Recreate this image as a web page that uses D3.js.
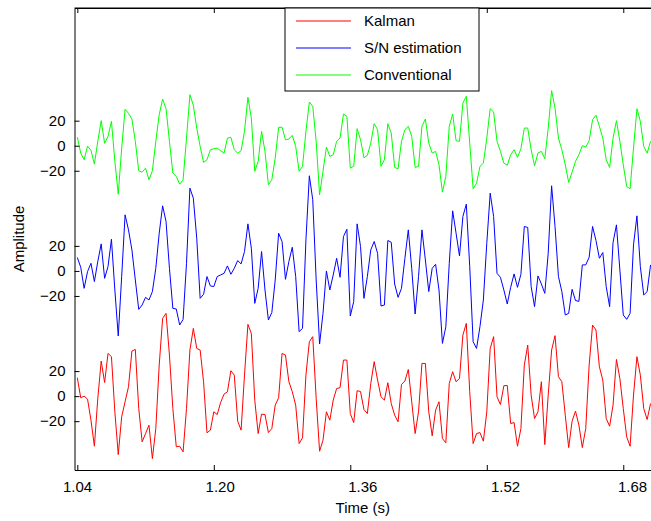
<!DOCTYPE html>
<html><head><meta charset="utf-8">
<script src="https://cdn.jsdelivr.net/npm/d3@7"></script>
<style>
body{margin:0;background:#fff}
svg{display:block}
text{font-family:"Liberation Sans",Arial,Helvetica,sans-serif;fill:#000}
</style>
</head><body>
<svg id="chart" width="651" height="521"></svg>
<script>
// ---- data ----
const startTime = 1.04;        // s, first sample
const sampleInterval = 0.004;  // s between samples

const kalman = [14.7,-1.3,0.0,-2.4,-19.2,-40.0,-1.9,28.0,10.9,34.1,31.5,-12.5,-46.7,-16.5,-4.5,7.5,36.0,37.3,-9.9,-36.5,-29.9,-23.2,-49.9,-25.9,24.8,62.1,66.1,32.8,-9.9,-40.5,-40.0,-44.5,-9.9,36.8,54.1,38.1,36.8,11.5,-29.3,-27.2,-12.5,-14.7,
 -5.1,1.6,3.5,20.3,16.8,-20.0,-27.2,16.8,57.3,50.1,-3.2,-29.9,-14.4,-14.7,-29.1,-25.9,-7.2,-1.3,34.1,32.8,11.5,3.5,-7.2,-37.9,-33.3,16.8,43.5,47.5,-1.9,-44.0,-35.2,-12.5,-19.2,-3.2,6.1,6.7,28.8,28.8,-13.9,-21.1,4.3,3.7,-10.7,
 -13.9,10.1,27.5,12.8,-0.5,-3.2,10.7,-5.9,-15.2,-20.5,9.3,12.0,21.3,-4.5,-29.9,-12.5,26.1,26.1,-12.5,-31.7,-11.2,-4.5,-33.9,-37.3,10.1,19.5,11.5,14.1,48.8,58.1,3.5,-37.9,-29.9,-29.1,-36.0,-12.5,38.1,47.5,-0.5,-6.7,8.3,8.5,
 -21.9,-21.1,-40.0,-25.9,24.8,40.8,0.8,-17.9,-12.5,11.5,-38.7,0.8,36.8,48.3,15.5,11.5,-15.2,-41.1,-20.0,-12.0,-23.2,-41.1,-25.9,24.8,56.8,52.8,23.5,12.8,-17.9,-24.0,-7.2,29.3,14.1,-9.9,-32.5,-40.0,0.8,31.5,16.8,-9.9,-18.7,-5.9];

const snEstimation = [10.7,2.9,-13.9,-0.5,6.1,-8.5,7.5,21.6,-5.9,3.5,25.3,-15.2,-52.0,-4.5,44.8,32.8,16.8,-7.2,-30.7,-27.2,-21.1,-23.2,-16.5,2.1,30.1,52.0,39.5,2.1,-29.9,-30.4,-43.2,-38.7,6.1,66.1,58.1,26.1,-21.9,-18.7,-4.5,-12.0,-12.5,-4.5,
 -3.2,-1.9,4.0,-2.7,2.1,8.3,5.6,15.5,37.6,18.1,-25.9,-13.9,15.5,-15.2,-39.2,-33.3,-7.2,30.1,23.5,-6.7,7.5,18.9,-4.5,-48.5,-45.9,24.8,76.0,56.8,-7.2,-58.4,-33.9,0.0,-15.2,-3.2,10.1,-5.1,27.5,33.3,-36.0,-24.5,37.6,19.5,-21.9,
 -4.5,16.8,23.5,14.1,-28.0,-27.2,24.3,22.9,-10.4,-21.1,-13.9,10.1,32.8,2.1,-34.4,-4.5,32.8,8.8,-16.5,2.1,5.3,-15.2,-57.9,-44.5,6.1,48.0,30.1,12.0,43.5,53.3,3.5,-56.5,-61.9,-44.5,-23.2,22.1,62.1,43.5,-1.9,-5.1,-15.2,-26.4,
 -13.1,-2.4,-13.1,-2.7,35.5,34.7,-12.5,-28.5,-4.0,-10.4,-17.9,14.1,68.0,35.5,-4.5,-16.5,-35.2,-33.9,-14.7,-23.7,-24.3,4.8,4.8,10.9,35.5,24.3,10.1,14.7,-12.5,-28.5,22.7,36.8,0.8,-35.2,-38.7,-33.9,20.8,44.0,3.5,-19.2,-16.5,4.8];

const conventional = [6.9,-5.9,-11.2,-0.3,-3.7,-14.7,3.5,20.0,1.9,7.5,19.5,-12.5,-38.7,-1.9,29.1,25.9,21.3,3.5,-20.0,-21.1,-17.9,-27.2,-20.0,3.5,24.8,37.3,29.6,3.5,-21.9,-24.5,-30.7,-27.2,6.1,40.8,32.3,14.1,-0.5,-13.3,-11.2,-3.2,-2.4,-1.9,
 -4.0,-5.9,6.1,6.7,-3.2,-5.9,-4.0,11.5,38.7,22.1,-20.5,-12.5,11.5,-4.5,-31.2,-27.2,-9.9,14.7,14.7,4.8,5.3,8.3,-0.5,-20.5,-16.5,11.5,34.9,31.5,3.5,-39.2,-20.5,-1.1,-8.5,-7.2,3.5,6.1,25.3,23.5,-17.9,-16.5,13.6,4.8,-9.6,
 -7.7,2.1,17.6,12.8,-16.5,-11.2,17.6,10.1,-17.3,-18.4,3.5,12.8,15.5,7.5,-17.3,-16.5,15.5,21.3,2.1,-5.9,-4.5,-15.2,-37.1,-24.5,15.5,25.3,4.0,3.5,34.1,39.5,2.1,-34.4,-29.9,-16.5,-13.9,6.1,29.6,26.9,3.5,-4.5,-13.9,-15.7,
 -7.2,-3.2,-9.3,-2.4,14.1,14.1,-3.2,-16.0,-5.9,-4.5,-10.4,14.1,44.0,30.1,6.1,-3.2,-15.2,-29.3,-21.1,-12.5,-7.2,0.0,-1.1,4.0,20.8,24.3,15.5,6.1,-11.2,-17.3,6.1,20.0,3.5,-15.2,-32.5,-34.4,-1.9,29.6,19.5,-0.5,-5.9,3.5];

const seriesNames = ["Kalman", "S/N estimation", "Conventional"];
const seriesValues = [kalman, snEstimation, conventional];
const seriesOffsets = [0, 100, 200];          // vertical stacking offset
const seriesColors = ["#ff0000", "#0000ff", "#00ff00"];
const xTickValues = [1.04, 1.20, 1.36, 1.52, 1.68];
const xTickLabels = ["1.04", "1.20", "1.36", "1.52", "1.68"];
const yTickValues = [20, 0, -20];
const xLabel = "Time (s)";
const yLabel = "Amplitude";

// ---- layout ----
const svg = d3.select("#chart");
const plot = {left: 74.5, right: 651, top: 8, bottom: 470};
const x = d3.scaleLinear().domain([1.0367, 1.7125]).range([plot.left, plot.right]);
const y = d3.scaleLinear().domain([-59, 310]).range([plot.bottom, plot.top]);
// tick-label placement as in the reference export (last label kept inside the frame)
const xLab = d3.scaleLinear().domain([1.04, 1.52, 1.68]).range([77, 505, 632]);

svg.append("defs").append("clipPath").attr("id", "clip")
  .append("rect").attr("x", plot.left).attr("y", plot.top)
  .attr("width", plot.right - plot.left).attr("height", plot.bottom - plot.top);

// traces
const line = d3.line()
  .x((d, i) => x(startTime + i * sampleInterval));
seriesValues.forEach((vals, k) => {
  svg.append("path")
    .datum(vals)
    .attr("clip-path", "url(#clip)")
    .attr("fill", "none")
    .attr("stroke", seriesColors[k])
    .attr("stroke-width", 1)
    .attr("stroke-linejoin", "round")
    .attr("d", line.y(d => y(d + seriesOffsets[k])));
});

// x axis (ticks inward)
svg.append("g").attr("transform", `translate(0,${plot.bottom})`)
  .call(d3.axisBottom(x).tickValues(xTickValues).tickSizeInner(-5).tickSizeOuter(0).tickFormat(""));
// top ticks
svg.append("g").attr("transform", `translate(0,${plot.top})`)
  .call(d3.axisTop(x).tickValues(xTickValues).tickSizeInner(-5).tickSizeOuter(0).tickFormat(""));
// x labels
const xLabG = svg.append("g").attr("transform", `translate(0,${plot.bottom})`)
  .call(d3.axisBottom(xLab).tickValues(xTickValues).tickSize(0).tickPadding(11)
    .tickFormat((d, i) => xTickLabels[i]));
xLabG.select(".domain").remove();

// y axis
const yTicks = [];
seriesOffsets.forEach(o => yTickValues.forEach(v => yTicks.push({pos: o + v, val: v})));
svg.append("g").attr("transform", `translate(${plot.left},0)`)
  .call(d3.axisLeft(y).tickValues(yTicks.map(t => t.pos)).tickSizeInner(-5).tickSizeOuter(0).tickPadding(9)
    .tickFormat((d, i) => { const v = yTicks[i].val; return v < 0 ? "\u2212" + Math.abs(v) : String(v); }));

svg.selectAll(".tick text").attr("font-size", 15).attr("font-family", '"Liberation Sans",Arial,sans-serif').attr("fill", "#000");
svg.selectAll(".domain, .tick line").attr("stroke", "#000").attr("stroke-width", 1);

// top border
svg.append("line").attr("x1", plot.left).attr("x2", plot.right).attr("y1", plot.top).attr("y2", plot.top)
  .attr("stroke", "#000");

// axis titles
svg.append("text").attr("x", (plot.left + plot.right) / 2).attr("y", 513)
  .attr("text-anchor", "middle").attr("font-size", 15).text(xLabel);
svg.append("text").attr("transform", `translate(24,${(plot.top + plot.bottom) / 2}) rotate(-90)`)
  .attr("text-anchor", "middle").attr("font-size", 15).text(yLabel);

// legend
const leg = svg.append("g");
leg.append("rect").attr("x", 285).attr("y", 8).attr("width", 194).attr("height", 83)
  .attr("fill", "#fff").attr("stroke", "#000");
seriesNames.forEach((name, k) => {
  const cy = 21 + k * 27;
  leg.append("line").attr("x1", 296).attr("x2", 351).attr("y1", cy).attr("y2", cy)
    .attr("stroke", seriesColors[k]);
  leg.append("text").attr("x", 364).attr("y", cy).attr("dy", "0.35em")
    .attr("font-size", 15).text(name);
});
</script>
</body></html>
